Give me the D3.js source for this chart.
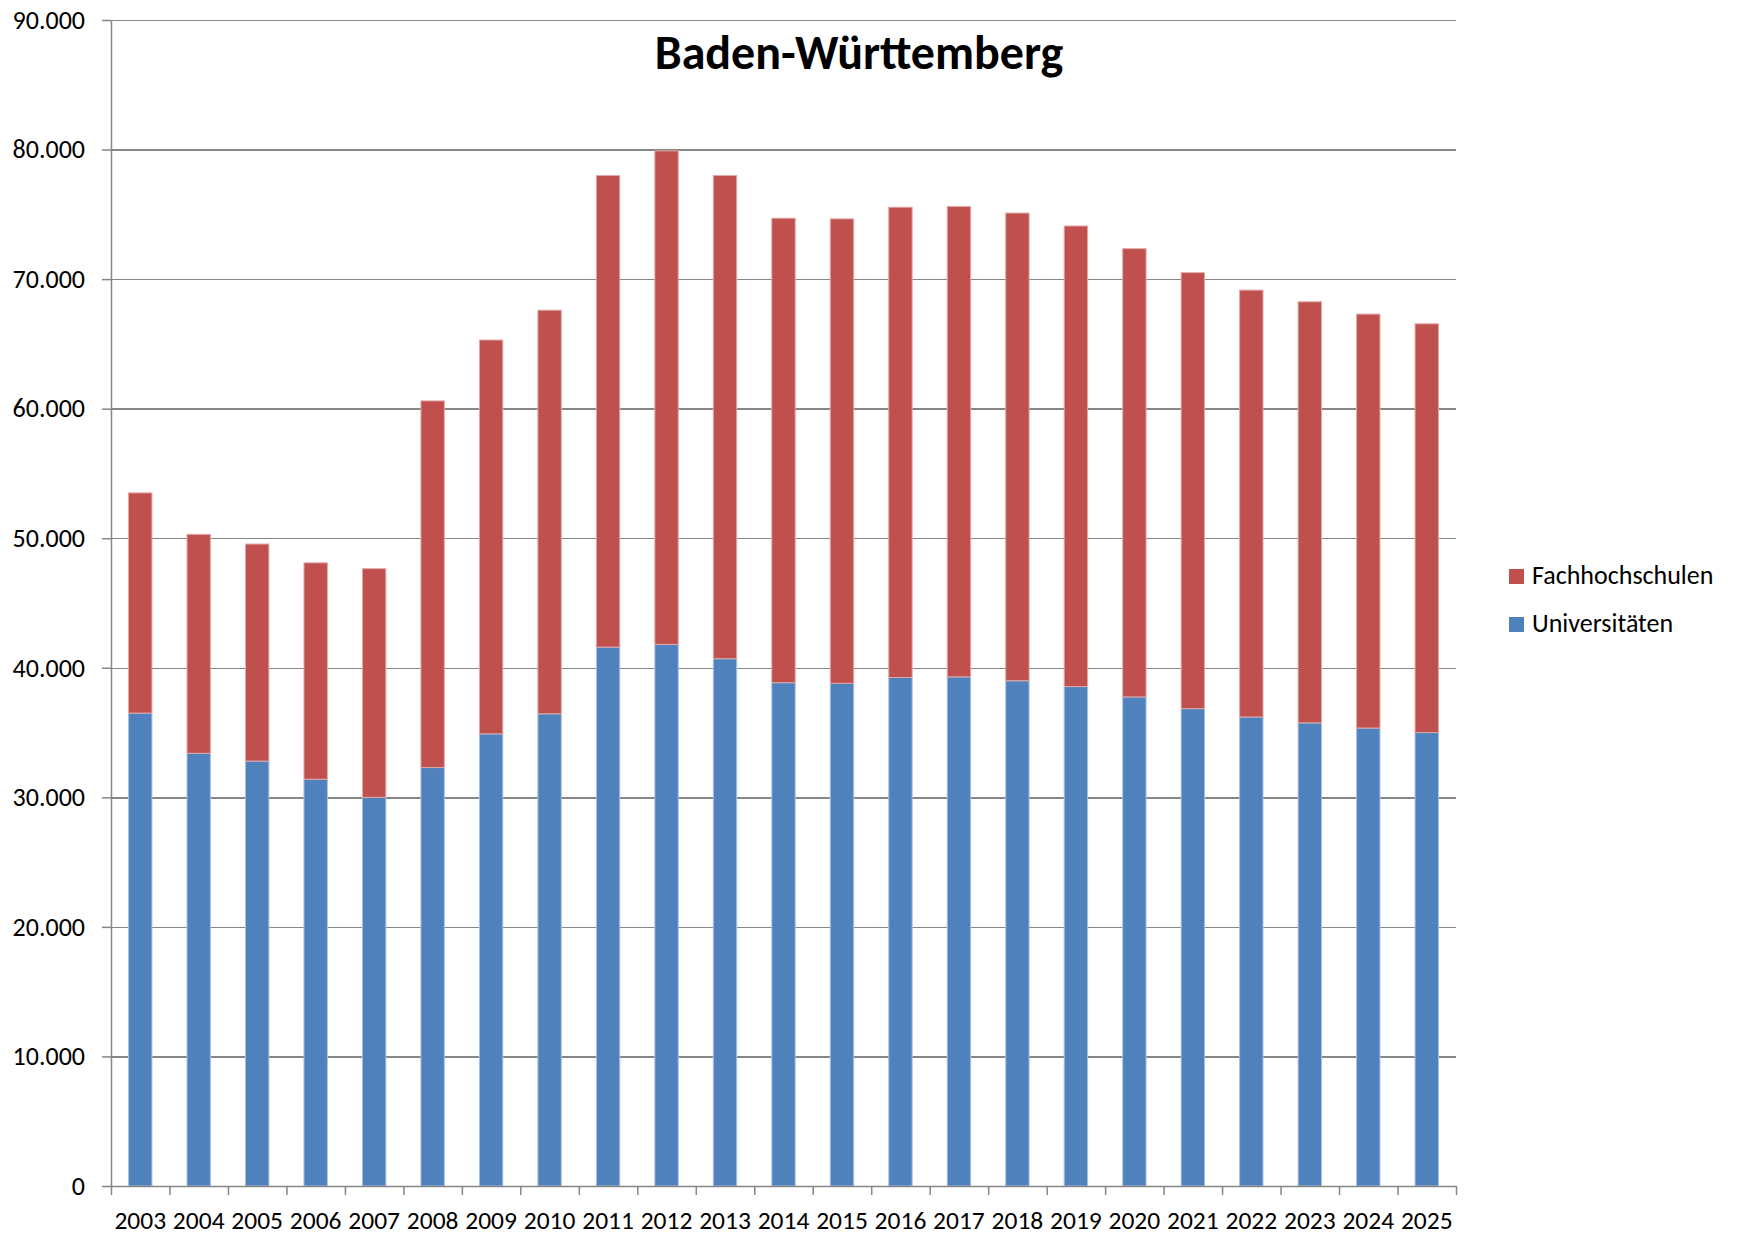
<!doctype html>
<html>
<head>
    <meta charset="utf-8">
    <title>Baden-Württemberg</title>
    <style type="text/css">
        body { margin: 0; background: #fff; }
        svg text { font-family: Carlito, Calibri, Lato, sans-serif; fill: #000; }
        .grid line { stroke: #868686; stroke-width: 1.5; shape-rendering: crispEdges; }
        .grid path { display: none; }
        .axis path, .axis line { stroke: #868686; stroke-width: 1.5; }
        .title { font-weight: bold; font-size: 48px; }
    </style>
</head>
<body>
<div id="chart"></div>

<script src="https://d3js.org/d3.v7.min.js"></script>
<script>

    // categories
    var years = ["2003", "2004", "2005", "2006", "2007", "2008", "2009", "2010", "2011", "2012", "2013", "2014",
        "2015", "2016", "2017", "2018", "2019", "2020", "2021", "2022", "2023", "2024", "2025"];

    // series values (stacked: Universitäten at the bottom, Fachhochschulen on top)
    var universitaeten = [36500, 33400, 32800, 31400, 30000, 32300, 34900, 36450, 41600, 41800, 40700, 38850,
        38800, 39250, 39300, 39000, 38550, 37750, 36850, 36200, 35750, 35350, 35000];
    var fachhochschulen = [17000, 16900, 16750, 16700, 17650, 28300, 30400, 31150, 36400, 38100, 37300, 35850,
        35850, 36300, 36300, 36100, 35550, 34600, 33650, 32950, 32500, 31950, 31550];

    // y tick labels
    var yTicks = [0, 10000, 20000, 30000, 40000, 50000, 60000, 70000, 80000, 90000];
    var yTickLabels = ["0", "10.000", "20.000", "30.000", "40.000", "50.000", "60.000", "70.000", "80.000", "90.000"];

    var seriesNames = ["Universitäten", "Fachhochschulen"];
    var colors = { "Universitäten": "#4f81bd", "Fachhochschulen": "#c0504d" };
    var edges = { "Universitäten": "#a9c1e0", "Fachhochschulen": "#e0a9a7" };

    var W = 1739, H = 1235;
    var margin = { top: 20, right: 283, bottom: 49, left: 111 };
    var width = W - margin.left - margin.right,
        height = H - margin.top - margin.bottom;

    var rows = years.map(function (y, i) {
        return { year: y, "Universitäten": universitaeten[i], "Fachhochschulen": fachhochschulen[i] };
    });
    var stacked = d3.stack().keys(seriesNames)(rows);

    var x = d3.scaleBand().domain(years).range([0, width]).padding(0);
    var xEdge = d3.scaleLinear().domain([0, years.length]).range([0, width]);
    var y = d3.scaleLinear().domain([0, 90000]).range([height, 0]);
    var barW = x.bandwidth() * 0.4;

    var svg = d3.select("#chart").append("svg")
        .attr("width", W)
        .attr("height", H);

    var g = svg.append("g")
        .attr("transform", "translate(" + margin.left + "," + margin.top + ")");

    // horizontal gridlines
    g.append("g")
        .attr("class", "grid")
        .call(d3.axisLeft(y).tickValues(yTicks.slice(1)).tickSize(-width).tickFormat(""));

    // stacked bars
    g.selectAll(".series")
        .data(stacked)
        .enter().append("g")
        .attr("class", "series")
        .attr("fill", function (d) { return colors[d.key]; })
        .attr("stroke", function (d) { return edges[d.key]; })
        .attr("stroke-width", 1)
        .selectAll("rect")
        .data(function (d) { return d; })
        .enter().append("rect")
        .attr("x", function (d) { return x(d.data.year) + (x.bandwidth() - barW) / 2; })
        .attr("width", barW)
        .attr("y", function (d) { return y(d[1]); })
        .attr("height", function (d) { return y(d[0]) - y(d[1]); });

    // y axis with labels
    g.append("g")
        .attr("class", "axis y")
        .call(d3.axisLeft(y).tickValues(yTicks).tickSize(9).tickSizeOuter(0).tickPadding(17)
            .tickFormat(function (d, i) { return yTickLabels[i]; }))
        .selectAll("text")
        .style("font-size", "26px");

    // x axis: tick marks at category boundaries
    g.append("g")
        .attr("class", "axis x")
        .attr("transform", "translate(0," + height + ")")
        .call(d3.axisBottom(xEdge).tickValues(d3.range(years.length + 1)).tickSize(9).tickSizeOuter(0).tickFormat(""));

    // x axis labels at category centres
    var xl = g.append("g")
        .attr("transform", "translate(0," + height + ")")
        .call(d3.axisBottom(x).tickSize(0).tickPadding(25));
    xl.select(".domain").remove();
    xl.selectAll("text").style("font-size", "25.5px");

    // title
    svg.append("text")
        .attr("class", "title")
        .attr("x", 859)
        .attr("y", 69)
        .attr("text-anchor", "middle")
        .text("Baden-Württemberg");

    // legend
    var legendItems = ["Fachhochschulen", "Universitäten"];
    var legend = svg.selectAll(".legend")
        .data(legendItems)
        .enter().append("g")
        .attr("class", "legend")
        .attr("transform", function (d, i) { return "translate(1509," + (569 + i * 48) + ")"; });

    legend.append("rect")
        .attr("width", 15)
        .attr("height", 15)
        .attr("fill", function (d) { return colors[d]; });

    legend.append("text")
        .attr("x", 23)
        .attr("y", 15)
        .style("font-size", "26px")
        .text(function (d) { return d; });

</script>
</body>
</html>
